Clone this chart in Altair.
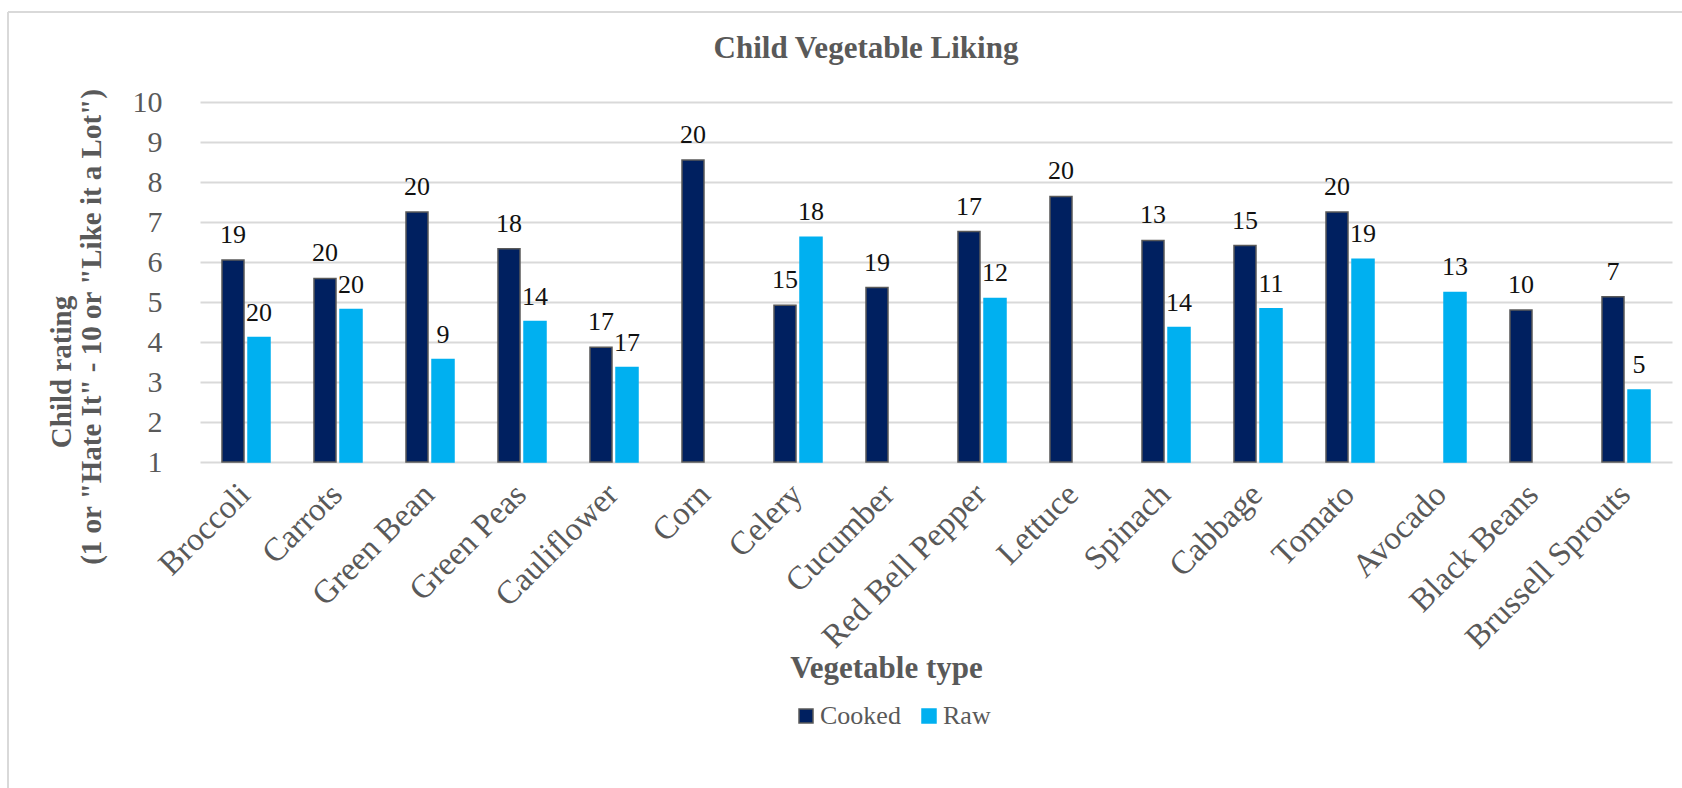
import altair as alt
import pandas as pd

# Vegetables in display order
vegetables = [
    "Broccoli", "Carrots", "Green Bean", "Green Peas", "Cauliflower", "Corn",
    "Celery", "Cucumber", "Red Bell Pepper", "Lettuce", "Spinach", "Cabbage",
    "Tomato", "Avocado", "Black Beans", "Brussell Sprouts",
]

# Mean child rating (1-10) and number of children, per preparation
cooked_rating = [6.05, 5.59, 7.25, 6.33, 3.87, 8.55, 4.92, 5.36, 6.76, 7.64,
                 6.54, 6.41, 7.25, None, 4.80, 5.13]
cooked_n = [19, 20, 20, 18, 17, 20, 15, 19, 17, 20, 13, 15, 20, None, 10, 7]

raw_rating = [4.11, 4.81, 3.56, 4.51, 3.36, None, 6.62, None, 5.09, None,
              4.36, 4.83, 6.07, 5.24, None, 2.80]
raw_n = [20, 20, 9, 14, 17, None, 18, None, 12, None, 14, 11, 19, 13, None, 5]

series = ["Cooked", "Raw"]
fills = ["#002060", "#00B0F0"]
strokes = ["#595959", "#00B0F0"]

# The two lines of the y-axis title
y_title_lines = ["Child rating", '(1 or "Hate It" - 10 or "Like it a Lot")']

rows = []
for name, ratings, counts in (("Cooked", cooked_rating, cooked_n),
                              ("Raw", raw_rating, raw_n)):
    for veg, r, n in zip(vegetables, ratings, counts):
        if r is not None:
            rows.append({"Vegetable": veg, "Type": name, "Rating": r,
                         "N": n, "Base": 1})
df = pd.DataFrame(rows)

SERIF = "Liberation Serif"
GREY = "#595959"

x_enc = alt.X(
    "Vegetable:N", sort=vegetables,
    scale=alt.Scale(paddingInner=0.478, paddingOuter=0.239),
    axis=alt.Axis(
        title="Vegetable type", labelAngle=-45, labelAlign="right",
        labelBaseline="middle", labelPadding=27, labelOffset=-1,
        labelFont=SERIF, labelFontSize=33, labelColor=GREY,
        ticks=False, domain=False, grid=False, labelLimit=400,
        labelOverlap=False,
        titleFont=SERIF, titleFontSize=31, titleFontWeight="bold",
        titleColor=GREY, titleX=686, titleY=215,
        titleBaseline="alphabetic",
    ),
)
xoff = alt.XOffset("Type:N", sort=series,
                   scale=alt.Scale(domain=series, paddingInner=0.1538,
                                   paddingOuter=0))

y_enc = alt.Y(
    "Rating:Q",
    scale=alt.Scale(domain=[1, 10], zero=False, nice=False),
    axis=alt.Axis(
        values=list(range(1, 11)), ticks=False, domain=False,
        labelOverlap=False, tickCount=10,
        labelFont=SERIF, labelFontSize=30, labelColor=GREY,
        labelPadding=38, gridColor="#d9d9d9", gridWidth=2,
        title=None,
    ),
)

legend = alt.Legend(title=None, orient="none", direction="horizontal",
                    legendX=593, legendY=601)

bars = alt.Chart(df).mark_bar(strokeWidth=1.5).encode(
    x=x_enc,
    xOffset=xoff,
    y=y_enc,
    y2="Base:Q",
    color=alt.Color(
        "Type:N", sort=series,
        scale=alt.Scale(domain=series, range=fills),
        legend=legend,
    ),
    stroke=alt.Stroke("Type:N", sort=series,
                      scale=alt.Scale(domain=series, range=strokes),
                      legend=legend),
)

labels = alt.Chart(df).mark_text(
    font=SERIF, fontSize=26, color="#111111", baseline="alphabetic",
    align="center", dy=-17,
).encode(
    x=x_enc,
    xOffset=xoff,
    y=y_enc,
    text=alt.Text("N:Q"),
)

# y-axis title, one rotated text per line
title_style = dict(font=SERIF, fontSize=29, fontWeight="bold", color=GREY,
                   angle=270, align="center", baseline="middle")
y_title_1 = alt.Chart(pd.DataFrame({"t": [y_title_lines[0]]})).mark_text(
    **title_style).encode(x=alt.value(-138), y=alt.value(270), text="t:N")
y_title_2 = alt.Chart(pd.DataFrame({"t": [y_title_lines[1]]})).mark_text(
    **title_style).encode(x=alt.value(-108), y=alt.value(225), text="t:N")

# Light frame around the chart area
frame_top = alt.Chart(df).mark_rule(color="#d9d9d9", strokeWidth=2).encode(
    x=alt.value(-192), x2=alt.value(1500), y=alt.value(-90))
frame_left = alt.Chart(df).mark_rule(color="#d9d9d9", strokeWidth=2).encode(
    x=alt.value(-192), y=alt.value(-90), y2=alt.value(700))

chart = alt.layer(
    frame_top, frame_left, y_title_1, y_title_2, bars, labels
).properties(
    width=1472,
    height=360,
    autosize=alt.AutoSizeParams(type="none"),
    padding={"left": 200, "top": 102, "right": 10, "bottom": 326},
    background="white",
    title=alt.TitleParams(
        text="Child Vegetable Liking", font=SERIF, fontSize=31,
        fontWeight="bold", color=GREY, anchor="middle", frame="group",
        dx=-70, offset=-78, baseline="alphabetic",
    ),
).configure_view(stroke=None).configure_legend(
    symbolType="square", symbolSize=196, symbolStrokeWidth=1.5,
    labelFont=SERIF, labelFontSize=26, labelColor=GREY, labelOffset=1,
    columnPadding=15, padding=0, labelLimit=300,
)

chart.save("out.html", embed_options={"renderer": "svg", "actions": False})
